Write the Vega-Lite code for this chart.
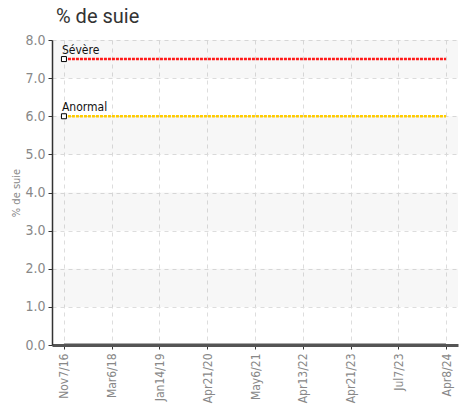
{
  "$schema": "https://vega.github.io/schema/vega-lite/v6.json",
  "width": 406,
  "height": 305,
  "autosize": {"type": "none"},
  "padding": {"left": 52, "top": 40, "right": 9, "bottom": 59},
  "background": "white",
  "title": {
    "text": "% de suie",
    "anchor": "start",
    "frame": "group",
    "font": "Roboto",
    "fontSize": 20,
    "fontWeight": "normal",
    "color": "#333333",
    "dx": 4,
    "offset": 6
  },
  "datasets": {
    "suie": [
      {"date": "Nov7/16", "value": 0},
      {"date": "Mar6/18", "value": 0},
      {"date": "Jan14/19", "value": 0},
      {"date": "Apr21/20", "value": 0},
      {"date": "May6/21", "value": 0},
      {"date": "Apr13/22", "value": 0},
      {"date": "Apr21/23", "value": 0},
      {"date": "Jul7/23", "value": 0},
      {"date": "Apr8/24", "value": 0}
    ],
    "severe": [
      {"date": "Nov7/16", "value": 7.5},
      {"date": "Mar6/18", "value": 7.5},
      {"date": "Jan14/19", "value": 7.5},
      {"date": "Apr21/20", "value": 7.5},
      {"date": "May6/21", "value": 7.5},
      {"date": "Apr13/22", "value": 7.5},
      {"date": "Apr21/23", "value": 7.5},
      {"date": "Jul7/23", "value": 7.5},
      {"date": "Apr8/24", "value": 7.5}
    ],
    "anormal": [
      {"date": "Nov7/16", "value": 6.0},
      {"date": "Mar6/18", "value": 6.0},
      {"date": "Jan14/19", "value": 6.0},
      {"date": "Apr21/20", "value": 6.0},
      {"date": "May6/21", "value": 6.0},
      {"date": "Apr13/22", "value": 6.0},
      {"date": "Apr21/23", "value": 6.0},
      {"date": "Jul7/23", "value": 6.0},
      {"date": "Apr8/24", "value": 6.0}
    ],
    "bands": [
      {"value": 1, "hi": 2},
      {"value": 3, "hi": 4},
      {"value": 5, "hi": 6},
      {"value": 7, "hi": 8}
    ],
    "limits": [
      {"date": "Nov7/16", "value": 7.5, "label": "Sévère"},
      {"date": "Nov7/16", "value": 6.0, "label": "Anormal"}
    ]
  },
  "config": {
    "view": {"stroke": null},
    "axis": {
      "labelFont": "DejaVu Sans Condensed, Roboto, sans-serif",
      "titleFont": "DejaVu Sans Condensed, Roboto, sans-serif",
      "labelColor": "#888888",
      "titleColor": "#888888",
      "gridColor": "#dddddd",
      "gridDash": [4, 4],
      "gridWidth": 1,
      "tickColor": "#333333",
      "domainColor": "#333333"
    }
  },
  "encoding": {
    "y": {
      "field": "value",
      "type": "quantitative",
      "scale": {"domain": [0, 8], "nice": false},
      "axis": {
        "title": "% de suie",
        "titleFontSize": 11,
        "titleFontWeight": "normal",
        "titlePadding": 3,
        "format": ".1f",
        "values": [0, 1, 2, 3, 4, 5, 6, 7, 8],
        "labelOverlap": false,
        "labelFontSize": 14,
        "labelPadding": 3,
        "tickSize": 4,
        "grid": true,
        "domainWidth": 1.5
      }
    }
  },
  "layer": [
    {
      "data": {"name": "bands"},
      "mark": {"type": "rect", "color": "#000000", "opacity": 0.03},
      "encoding": {
        "y2": {"field": "hi"}
      }
    },
    {
      "data": {"name": "suie"},
      "mark": {"type": "line", "color": "#555555", "strokeWidth": 3},
      "encoding": {
        "x": {
          "field": "date",
          "type": "ordinal",
          "sort": null,
          "scale": {"type": "point", "padding": 0.25},
          "axis": {
            "title": null,
            "labelAngle": -90,
            "labelFontSize": 12,
            "labelPadding": 4,
            "tickSize": 4,
            "grid": true,
            "domainColor": "#555555",
            "domainWidth": 3
          }
        }
      }
    },
    {
      "data": {"name": "severe"},
      "mark": {"type": "line", "color": "#ff1a1a", "strokeWidth": 2.5, "strokeDash": [3, 1]},
      "encoding": {
        "x": {"field": "date", "type": "ordinal", "sort": null}
      }
    },
    {
      "data": {"name": "anormal"},
      "mark": {"type": "line", "color": "#ffcc00", "strokeWidth": 2.5, "strokeDash": [3, 1]},
      "encoding": {
        "x": {"field": "date", "type": "ordinal", "sort": null}
      }
    },
    {
      "data": {"name": "limits"},
      "mark": {"type": "square", "size": 25, "fill": "white", "stroke": "black", "strokeWidth": 1, "opacity": 1},
      "encoding": {
        "x": {"field": "date", "type": "ordinal", "sort": null}
      }
    },
    {
      "data": {"name": "limits"},
      "mark": {"type": "text", "align": "left", "baseline": "alphabetic", "dy": -5, "dx": -2, "font": "DejaVu Sans Condensed, Roboto, sans-serif", "fontSize": 12, "color": "#111111"},
      "encoding": {
        "x": {"field": "date", "type": "ordinal", "sort": null},
        "text": {"field": "label"}
      }
    }
  ]
}
